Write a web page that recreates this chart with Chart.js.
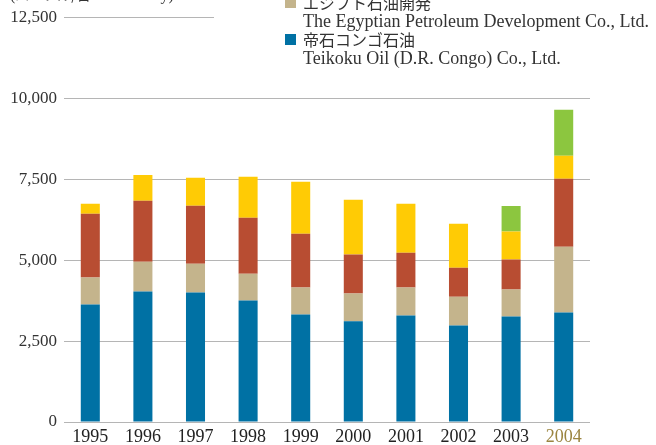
<!DOCTYPE html>
<html>
<head>
<meta charset="utf-8">
<script src="https://cdn.jsdelivr.net/npm/chart.js@4.4.0/dist/chart.umd.min.js"></script>
<style>
  html, body { margin: 0; padding: 0; background: #fff; }
  #wrap { position: relative; width: 656px; height: 445px; overflow: hidden; }
  #unit { position: absolute; left: 10px; top: -16px; font: 16px "Liberation Serif", serif; color: #333; white-space: nowrap; }
  #unit .jp { font-family: "Noto Sans CJK JP", sans-serif; font-size: 14px; }
  #legend { position: absolute; left: 214px; top: -14px; background: #fff; padding-left: 71px; padding-right: 10px; }
  .item { position: relative; padding-left: 18px; height: 37px; }
  .sw { position: absolute; left: 0; top: 11px; width: 11px; height: 11px; }
  .jp2 { font: 16px "Noto Sans CJK JP", sans-serif; color: #333; line-height: 18px; padding-top: 7px; }
  .en { font: 18px "Liberation Serif", serif; color: #333; line-height: 17px; margin-top: 2px; white-space: nowrap; }
</style>
</head>
<body>
<div id="wrap">
  <canvas id="c" width="656" height="445"></canvas>
  <div id="unit">(<span class="jp">バーレル/日</span> Barrels/day)</div>
  <div id="legend"></div>
</div>
<script>
const years = ['1995', '1996', '1997', '1998', '1999', '2000', '2001', '2002', '2003', '2004'];
const yTicks = [0, 2500, 5000, 7500, 10000, 12500];

// segments, bottom to top
const congo  = [3630, 4030, 4000, 3750, 3320, 3110, 3290, 2980, 3260, 3380];
const egypt  = [830, 920, 890, 830, 830, 860, 860, 890, 830, 2030];
const third  = [1970, 1880, 1790, 1730, 1665, 1200, 1080, 895, 925, 2100];
const fourth = [310, 800, 860, 1260, 1600, 1695, 1510, 1355, 865, 710];
const fifth  = [0, 0, 0, 0, 0, 0, 0, 0, 790, 1420];

const legendItems = [
  { color: '#c4b48c', jp: 'エジプト石油開発', en: 'The Egyptian Petroleum Development Co., Ltd.' },
  { color: '#0071a4', jp: '帝石コンゴ石油', en: 'Teikoku Oil (D.R. Congo) Co., Ltd.' }
];

const leg = document.getElementById('legend');
legendItems.forEach(it => {
  const d = document.createElement('div');
  d.className = 'item';
  d.innerHTML = '<span class="sw" style="background:' + it.color + '"></span>' +
    '<div class="jp2">' + it.jp + '</div><div class="en">' + it.en + '</div>';
  leg.appendChild(d);
});

new Chart(document.getElementById('c'), {
  type: 'bar',
  data: {
    labels: years,
    datasets: [
      { label: '帝石コンゴ石油', data: congo, backgroundColor: '#0071a4' },
      { label: 'エジプト石油開発', data: egypt, backgroundColor: '#c4b48c' },
      { label: 'series 3', data: third, backgroundColor: '#b84d32' },
      { label: 'series 4', data: fourth, backgroundColor: '#ffcb05' },
      { label: 'series 5', data: fifth, backgroundColor: '#8cc63f' }
    ]
  },
  options: {
    responsive: false,
    animation: false,
    layout: { padding: { top: 16, right: 66, left: 0, bottom: 0 } },
    plugins: { legend: { display: false }, tooltip: { enabled: false } },
    datasets: { bar: { categoryPercentage: 1, barPercentage: 0.362 } },
    scales: {
      x: {
        stacked: true,
        grid: { display: false, drawTicks: false },
        border: { display: false },
        ticks: {
          padding: 4,
          font: { family: 'Liberation Serif', size: 18 },
          color: ctx => ctx.index === 9 ? '#9b8540' : '#222'
        },
        afterFit: s => { s.height = 23; }
      },
      y: {
        stacked: true,
        min: 0,
        max: 12500,
        afterBuildTicks: s => { s.ticks = yTicks.map(v => ({ value: v })); },
        grid: { color: '#b5b5b5', lineWidth: 1, drawTicks: false },
        border: { display: false },
        ticks: {
          padding: 7,
          font: { family: 'Liberation Serif', size: 17 },
          color: '#333',
          callback: v => v.toLocaleString('en-US')
        },
        afterFit: s => { s.width = 64; }
      }
    }
  }
});
</script>
</body>
</html>
